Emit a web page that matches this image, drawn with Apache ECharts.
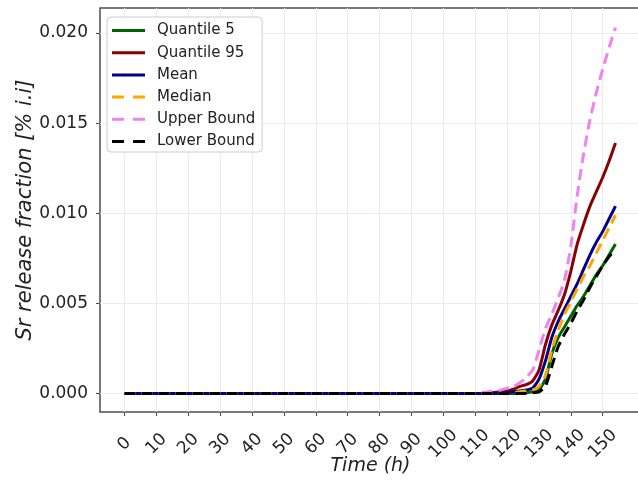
<!DOCTYPE html>
<html>
<head>
<meta charset="utf-8">
<script src="https://cdn.jsdelivr.net/npm/echarts@6/dist/echarts.min.js"></script>
<style>
html,body{margin:0;padding:0;background:#fff;}
#chart{width:638px;height:489px;}
</style>
</head>
<body>
<div id="chart"></div>
<script>
// Time (h)
const times = [0,10,20,30,40,50,60,70,80,90,100,110,114,118,120,122,124,126,128,130,132,134,136,138,140,142,144,146,148,150,152,154];
const quantile5 = [0,0,0,0,0,0,0,0,0,0,0,0,0,0,0,0,0,0.00005,0.0001,0.0002,0.0008,0.0022,0.0031,0.0037,0.0043,0.0049,0.0054,0.0060,0.0066,0.0071,0.0077,0.0083];
const quantile95 = [0,0,0,0,0,0,0,0,0,0,0,0,0.00003,0.0001,0.00015,0.00025,0.0004,0.0005,0.0007,0.0013,0.0027,0.0038,0.0046,0.0055,0.0068,0.0083,0.0094,0.0104,0.0112,0.0120,0.0129,0.0139];
const mean = [0,0,0,0,0,0,0,0,0,0,0,0,0,0.00003,0.00005,0.0001,0.00015,0.0002,0.0003,0.0008,0.0018,0.0031,0.0040,0.0047,0.0054,0.0061,0.0069,0.0077,0.0084,0.0090,0.0097,0.0104];
const median = [0,0,0,0,0,0,0,0,0,0,0,0,0,0,0,0.00005,0.0001,0.00015,0.0002,0.0004,0.0010,0.0024,0.0035,0.0044,0.0051,0.0058,0.0065,0.0071,0.0078,0.0085,0.0092,0.0099];
const upperBound = [0,0,0,0,0,0,0,0,0,0,0,0,0.0001,0.0002,0.0003,0.0004,0.0006,0.0009,0.0013,0.0024,0.0036,0.0044,0.0053,0.0063,0.0082,0.0110,0.0133,0.0152,0.0167,0.0180,0.0192,0.0203];
const lowerBound = [0,0,0,0,0,0,0,0,0,0,0,0,0,0,0,0,0,0,0.00005,0.0001,0.0004,0.0015,0.0026,0.0033,0.0039,0.0046,0.0052,0.0059,0.0065,0.0071,0.0076,0.0080];
const xTicks = [0,10,20,30,40,50,60,70,80,90,100,110,120,130,140,150];
const yTicks = [0,0.005,0.010,0.015,0.020];
const seriesNames = ['Quantile 5','Quantile 95','Mean','Median','Upper Bound','Lower Bound'];

const font = 'DejaVu Sans';
const pair = (arr) => times.map((t, i) => [t, arr[i]]);
const dash = [11, 6];
const solidIcon = 'path://M0,0L33,0L33,3L0,3Z';
const dashIcon = 'path://M0,0L12,0L12,3L0,3Z M21,0L33,0L33,3L21,3Z';
function line(name, data, color, type) {
  return {
    name: name, type: 'line', data: pair(data), symbol: 'none', smooth: 0.2,
    lineStyle: {color: color, width: 3, type: type},
    itemStyle: {color: color},
    emphasis: {disabled: true}
  };
}
const chart = echarts.init(document.getElementById('chart'), null, {renderer: 'canvas'});
chart.setOption({
  animation: false,
  backgroundColor: '#ffffff',
  grid: {left: 100, top: 8, width: 541, height: 404, outerBoundsMode: 'none', containLabel: false,
         show: true, backgroundColor: '#fff', borderColor: '#4d4d4d', borderWidth: 1.5},
  legend: {
    orient: 'vertical', left: 107, top: 17,
    itemWidth: 33, itemHeight: 3, itemGap: 7.2,
    padding: [6, 7, 3, 5],
    backgroundColor: 'rgba(255,255,255,0.85)', borderColor: '#cccccc', borderWidth: 1, borderRadius: 4,
    textStyle: {fontFamily: font, fontSize: 15, lineHeight: 15, color: '#222', padding: [0, 0, 0, 7]},
    data: seriesNames.map((n, i) => ({name: n, icon: i < 3 ? solidIcon : dashIcon}))
  },
  xAxis: {
    type: 'value', min: -7.7, max: 162,
    name: 'Time (h)', nameLocation: 'middle', nameGap: 45, nameMoveOverlap: false,
    nameTextStyle: {fontFamily: font, fontSize: 19, fontStyle: 'italic', color: '#222'},
    axisLine: {show: false, onZero: false},
    axisTick: {show: true, customValues: xTicks, length: 4, lineStyle: {color: '#4d4d4d', width: 1}},
    axisLabel: {customValues: xTicks, rotate: 45, align: 'center', verticalAlign: 'middle', margin: 32, fontFamily: font, fontSize: 17, color: '#222'},
    splitLine: {show: true, lineStyle: {color: '#ebebeb', width: 1}}
  },
  yAxis: {
    type: 'value', min: -0.00102, max: 0.02139,
    name: 'Sr release fraction [% i.i]', nameLocation: 'middle', nameGap: 64, nameMoveOverlap: false,
    nameTextStyle: {fontFamily: font, fontSize: 21, fontStyle: 'italic', color: '#222'},
    axisLine: {show: false, onZero: false},
    axisTick: {show: true, customValues: yTicks, length: 4, lineStyle: {color: '#4d4d4d', width: 1}},
    axisLabel: {customValues: yTicks, formatter: (v) => v.toFixed(3), margin: 12, fontFamily: font, fontSize: 17, color: '#222'},
    splitLine: {show: true, lineStyle: {color: '#ebebeb', width: 1}}
  },
  series: [
    line(seriesNames[0], quantile5, '#006400', 'solid'),
    line(seriesNames[1], quantile95, '#8b0000', 'solid'),
    line(seriesNames[2], mean, '#00008b', 'solid'),
    line(seriesNames[3], median, '#ffa500', dash),
    line(seriesNames[4], upperBound, '#ee82ee', dash),
    line(seriesNames[5], lowerBound, '#000000', dash)
  ]
});
</script>
</body>
</html>
